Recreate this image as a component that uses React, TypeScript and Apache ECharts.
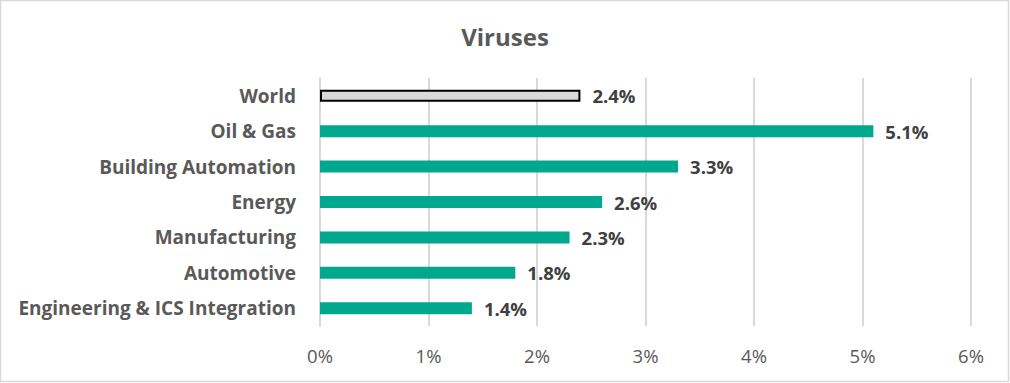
import React, { useEffect, useRef } from "react";
import * as echarts from "echarts";

const categories = [
  "World",
  "Oil & Gas",
  "Building Automation",
  "Energy",
  "Manufacturing",
  "Automotive",
  "Engineering & ICS Integration",
];
const values = [2.4, 5.1, 3.3, 2.6, 2.3, 1.8, 1.4];
const xTicks = [0, 1, 2, 3, 4, 5, 6];
const title = "Viruses";

export default function App() {
  const ref = useRef<HTMLDivElement>(null);
  useEffect(() => {
    const chart = echarts.init(ref.current!, null, { renderer: "svg" });
    const font = "'Open Sans', sans-serif";
    chart.setOption({
      animation: false,
      backgroundColor: "#ffffff",
      title: {
        text: title,
        left: "center",
        top: 19,
        textStyle: { fontFamily: font, fontSize: 24, fontWeight: "bold", color: "#595959" },
      },
      grid: { left: 320, right: 39, top: 78, bottom: 57 },
      xAxis: {
        type: "value",
        min: xTicks[0],
        max: xTicks[xTicks.length - 1],
        interval: 1,
        axisLine: { show: false },
        axisTick: { show: false },
        splitLine: { show: true, lineStyle: { color: "#d9d9d9", width: 2 } },
        axisLabel: {
          formatter: (v: number) => v + "%",
          fontFamily: font,
          fontSize: 18.5,
          color: "#595959",
          margin: 20,
        },
      },
      yAxis: {
        type: "category",
        data: categories,
        inverse: true,
        axisLine: { show: true, lineStyle: { color: "#d9d9d9", width: 2 } },
        axisTick: { show: false },
        axisLabel: {
          fontFamily: font,
          fontSize: 19,
          fontWeight: "bold",
          color: "#595959",
          margin: 24,
        },
      },
      series: [
        {
          type: "bar",
          barWidth: 12,
          data: values.map((v, i) =>
            i === 0
              ? { value: v, itemStyle: { color: "#d9d9d9", borderColor: "#000000", borderWidth: 2 } }
              : { value: v, itemStyle: { color: "#00a88e" } }
          ),
          label: {
            show: true,
            position: "right",
            distance: 12,
            formatter: (p: any) => p.value.toFixed(1) + "%",
            fontFamily: font,
            fontSize: 18.5,
            fontWeight: "bold",
            color: "#404040",
          },
        },
      ],
      graphic: [
        {
          type: "rect",
          shape: { x: 0.5, y: 0.5, width: 1008, height: 381 },
          style: { fill: "none", stroke: "#d9d9d9", lineWidth: 1.5 },
          silent: true,
        },
      ],
    });
    return () => chart.dispose();
  }, []);
  return (
    <div
      ref={ref}
      style={{ position: "fixed", left: 0, top: 0, width: 1010, height: 383 }}
    />
  );
}
